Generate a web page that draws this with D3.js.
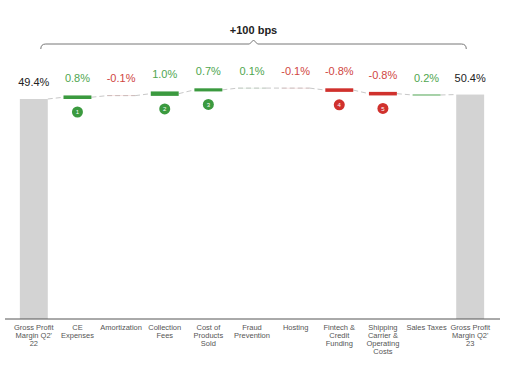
<!DOCTYPE html>
<html><head><meta charset="utf-8">
<script src="https://cdn.jsdelivr.net/npm/d3@7"></script>
<style>body{margin:0;background:#fff}svg{display:block;font-family:"Liberation Sans",Arial,sans-serif}</style>
</head><body><div id="chart"></div>
<script>
const categories = ["Gross Profit Margin Q2' 22","CE Expenses","Amortization","Collection Fees","Cost of Products Sold","Fraud Prevention","Hosting","Fintech & Credit Funding","Shipping Carrier & Operating Costs","Sales Taxes","Gross Profit Margin Q2' 23"];
const categoryLines = [["Gross Profit","Margin Q2'","22"],["CE","Expenses"],["Amortization"],["Collection","Fees"],["Cost of","Products","Sold"],["Fraud","Prevention"],["Hosting"],["Fintech &","Credit","Funding"],["Shipping","Carrier &","Operating","Costs"],["Sales Taxes"],["Gross Profit","Margin Q2'","23"]];
const values = [49.4, 0.8, -0.1, 1.0, 0.7, 0.1, -0.1, -0.8, -0.8, 0.2, 50.4];
const isTotal = [true,false,false,false,false,false,false,false,false,false,true];
const markers = [null,1,null,2,3,null,null,4,5,null,null];
const braceLabel = "+100 bps";

const W = 511, H = 366;
const svg = d3.select("#chart").append("svg").attr("width", W).attr("height", H);

const x = d3.scaleBand().domain(categories).range([12, 492]).paddingInner(0.36).paddingOuter(0.18);
const y = d3.scaleLinear().domain([0, 49.4]).range([319, 99]);

let run = 0;
const bars = values.map((v, i) => {
  let start, end;
  if (isTotal[i]) { start = 0; end = v; run = v; }
  else { start = run; end = run + v; run = end; }
  return {cat: categories[i], v, start, end, total: isTotal[i], i};
});

const green = "#3b9a3f", red = "#d0312d", grey = "#d3d3d3";
const colorOf = d => d.total ? grey : (d.v >= 0 ? green : red);

const conn = [];
for (let i = 0; i < bars.length - 1; i++) {
  const a = bars[i], b = bars[i+1];
  const av = a.total ? a.end : (a.start + a.end) / 2;
  const bv = b.total ? b.end : (b.start + b.end) / 2;
  conn.push({x1: x(a.cat) + x.bandwidth(), y1: y(av), x2: x(b.cat), y2: y(bv)});
}
svg.append("g").selectAll("line").data(conn).join("line")
  .attr("x1", d => d.x1).attr("y1", d => d.y1).attr("x2", d => d.x2).attr("y2", d => d.y2)
  .attr("stroke", "#c8c8c8").attr("stroke-width", 1).attr("stroke-dasharray", "5,3");

svg.append("g").selectAll("line").data(bars.filter(d => !d.total && Math.abs(d.v) < 0.15)).join("line")
  .attr("x1", d => x(d.cat)).attr("x2", d => x(d.cat) + x.bandwidth())
  .attr("y1", d => y((d.start + d.end) / 2)).attr("y2", d => y((d.start + d.end) / 2))
  .attr("stroke", "#c8c8c8").attr("stroke-width", 1).attr("stroke-dasharray", "5,3");

svg.append("g").selectAll("rect").data(bars).join("rect")
  .attr("x", d => x(d.cat)).attr("width", x.bandwidth())
  .attr("y", d => y(Math.max(d.start, d.end)))
  .attr("height", d => Math.abs(y(d.start) - y(d.end)))
  .attr("fill", colorOf)
  .attr("fill-opacity", d => (!d.total && Math.abs(d.v) < 0.15) ? 0.25 : 1);

svg.append("g").selectAll("text").data(bars).join("text")
  .attr("x", d => x(d.cat) + x.bandwidth() / 2)
  .attr("y", d => y(Math.max(d.start, d.end)) - 13)
  .attr("text-anchor", "middle").attr("font-size", 11)
  .attr("fill", d => d.total ? "#222" : (d.v >= 0 ? "#4fa64f" : "#d0463f"))
  .text(d => d.v.toFixed(1) + "%");

const mk = bars.filter(d => markers[d.i] != null);
const mg = svg.append("g").selectAll("g").data(mk).join("g")
  .attr("transform", d => `translate(${x(d.cat) + x.bandwidth() / 2},${y(Math.min(d.start, d.end)) + 13})`);
mg.append("circle").attr("r", 5.5).attr("fill", colorOf);
mg.append("text").attr("text-anchor", "middle").attr("dy", "0.35em").attr("font-size", 6)
  .attr("fill", "#fff").text(d => markers[d.i]);

const axis = svg.append("g").attr("transform", `translate(0,${y(0)})`)
  .call(d3.axisBottom(x).tickSize(0).tickFormat(""));
axis.select(".domain").attr("d", "M5,0H500").attr("stroke", "#555");
axis.selectAll(".tick text").remove();
axis.selectAll(".tick").each(function(d, i) {
  const t = d3.select(this).append("text").attr("fill", "#555").attr("font-size", 7.5)
    .attr("text-anchor", "middle").attr("y", 10.5);
  categoryLines[i].forEach((ln, k) => t.append("tspan").attr("x", 0).attr("dy", k === 0 ? 0 : 8.3).text(ln));
});

const bx1 = x(categories[0]) + x.bandwidth() * 0.75;
const bx2 = x(categories[categories.length - 1]) + x.bandwidth() * 0.36;
const by = 44, bm = (bx1 + bx2) / 2;
svg.append("path")
  .attr("d", `M${bx1},${by + 5} Q${bx1},${by} ${bx1 + 5},${by} L${bm - 4},${by} L${bm},${by - 4} L${bm + 4},${by} L${bx2 - 5},${by} Q${bx2},${by} ${bx2},${by + 5}`)
  .attr("fill", "none").attr("stroke", "#777").attr("stroke-width", 1);
svg.append("text").attr("x", bm).attr("y", 34).attr("text-anchor", "middle")
  .attr("font-size", 11).attr("font-weight", "bold").attr("fill", "#222").text(braceLabel);
</script></body></html>
